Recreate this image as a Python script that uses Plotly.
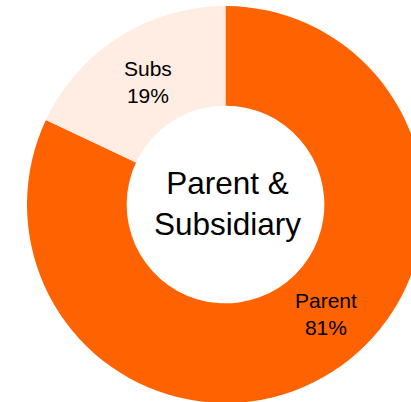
import plotly.graph_objects as go

labels = ["Parent", "Subs"]
values = [82, 18]
pct_text = ["81%", "19%"]
colors = ["#FF6200", "#FFECE2"]
center_title = "Parent &<br>Subsidiary"

# label anchor positions (paper fraction) for each slice label
label_x = [0.7231, 0.3282]
label_y = [0.2237, 0.8093]

fig = go.Figure(
    go.Pie(
        labels=labels,
        values=values,
        hole=0.498,
        sort=False,
        direction="clockwise",
        rotation=0,
        marker=dict(colors=colors, line=dict(width=0)),
        textinfo="none",
        showlegend=False,
        hoverinfo="label+percent",
    )
)

for lab, pct, lx, ly in zip(labels, pct_text, label_x, label_y):
    fig.add_annotation(
        text=f"{lab}<br>{pct}",
        x=lx, y=ly, xref="paper", yref="paper",
        xanchor="center", yanchor="middle",
        showarrow=False,
        font=dict(family="Liberation Sans, Arial", size=21, color="#000000"),
    )

fig.add_annotation(
    text=center_title,
    x=0.5044, y=0.5030, xref="paper", yref="paper",
    xanchor="center", yanchor="middle",
    showarrow=False,
    font=dict(family="Liberation Sans, Arial", size=31.5, color="#000000"),
)

fig.update_layout(
    width=451,
    height=403,
    margin=dict(l=0, r=0, t=6, b=0),
    paper_bgcolor="#FFFFFF",
    plot_bgcolor="#FFFFFF",
)

fig.write_html(
    "out.html",
    config={"displayModeBar": False},
    post_script="document.body.style.margin='0';document.body.style.overflow='hidden';",
)
